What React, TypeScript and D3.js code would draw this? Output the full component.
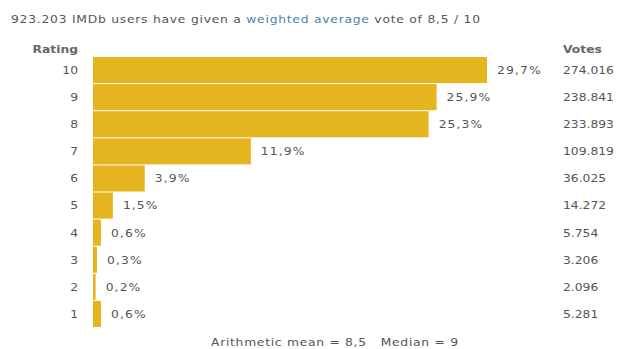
import React from "react";
import * as d3 from "d3";

const ratings = ["10", "9", "8", "7", "6", "5", "4", "3", "2", "1"];
const percents = [29.7, 25.9, 25.3, 11.9, 3.9, 1.5, 0.6, 0.3, 0.2, 0.6];
const votes = ["274.016", "238.841", "233.893", "109.819", "36.025", "14.272", "5.754", "3.206", "2.096", "5.281"];
const pctLabels = ["29,7%", "25,9%", "25,3%", "11,9%", "3,9%", "1,5%", "0,6%", "0,3%", "0,2%", "0,6%"];

const W = 619;
const H = 349;
const FONT = "'DejaVu Sans', Verdana, sans-serif";
const TEXT = "#555";
const BAR = "#e4b51f";
const SX = 1.12;

function T(props: {
  x: number;
  y: number;
  anchor?: "start" | "end" | "middle";
  bold?: boolean;
  ls?: number;
  len?: number;
  fill?: string;
  dy?: string;
  children: React.ReactNode;
}) {
  return (
    <text
      transform={`translate(${props.x},${props.y}) scale(${SX},1)`}
      dy={props.dy}
      fontSize={11}
      fontWeight={props.bold ? "bold" : "normal"}
      letterSpacing={props.ls ?? 0}
      textLength={props.len ? props.len / SX : undefined}
      lengthAdjust={props.len ? "spacing" : undefined}
      fill={props.fill ?? TEXT}
      textAnchor={props.anchor ?? "start"}
    >
      {props.children}
    </text>
  );
}

export default function App() {
  const x = d3.scaleLinear().domain([0, 30]).range([93, 93 + 398]);
  const y = d3.scaleBand<string>().domain(ratings).range([57, 327]).paddingInner(1 / 27).paddingOuter(0);
  return (
    <svg width={W} height={H} style={{ position: "absolute", left: 0, top: 0, background: "#fff" }} fontFamily={FONT}>
      <T x={11} y={23} len={469}>
        923.203 IMDb users have given a <tspan fill="#4a80a8">weighted average</tspan> vote of 8,5 / 10
      </T>
      <T x={78} y={53} bold fill="#666" anchor="end">Rating</T>
      <T x={563} y={53} bold fill="#666">Votes</T>
      {ratings.map((r, i) => {
        const yy = y(r)!;
        const cy = yy + y.bandwidth() / 2;
        return (
          <g key={r}>
            <rect x={x(0)} y={yy} width={x(percents[i]) - x(0)} height={y.bandwidth()} fill={BAR} />
            <T x={78} y={cy} dy="0.35em" anchor="end">{r}</T>
            <T x={x(percents[i]) + 10} y={cy} dy="0.35em" ls={1}>{pctLabels[i]}</T>
            <T x={563} y={cy} dy="0.35em">{votes[i]}</T>
          </g>
        );
      })}
      <T x={211} y={346} len={247}>Arithmetic mean = 8,5{"\u00a0\u00a0\u00a0"}Median = 9</T>
    </svg>
  );
}
